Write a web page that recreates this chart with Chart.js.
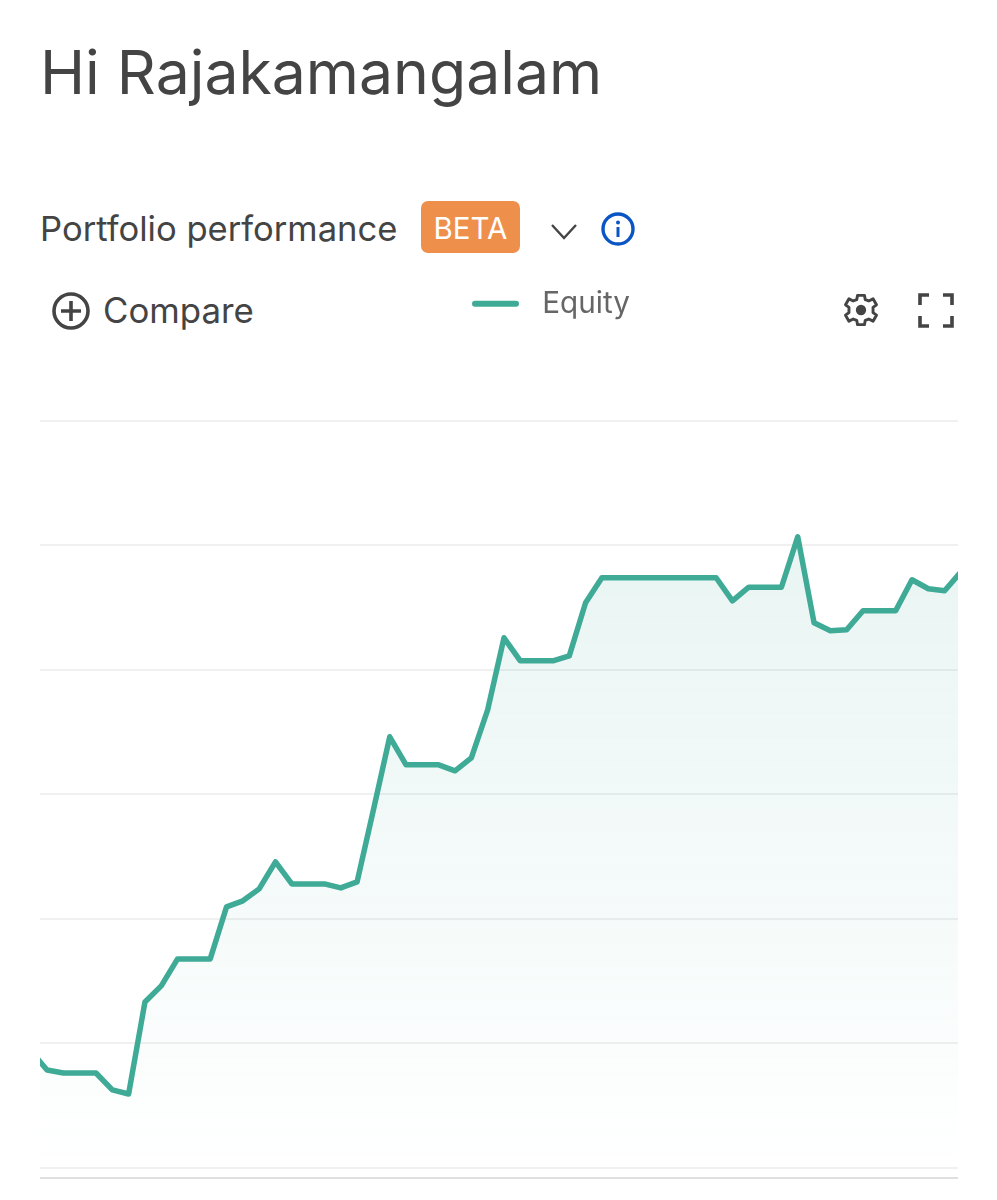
<!DOCTYPE html>
<html><head><meta charset="utf-8">
<script src="https://cdn.jsdelivr.net/npm/chart.js@4"></script>
<style>
html,body{margin:0;padding:0;background:#fff;width:997px;height:1200px;overflow:hidden;font-family:Inter,sans-serif;color:#444}
.t{position:absolute;white-space:nowrap;line-height:1}
svg{position:absolute;overflow:visible}
#wrap{position:absolute;left:0;top:280px;width:997px;height:900px}
#rule{position:absolute;left:40px;top:1177px;width:918px;height:2px;background:#dfdfdf}
</style></head><body>
<div class="t" style="left:40px;top:42px;font-size:60.7px">Hi Rajakamangalam</div>
<div class="t" style="left:40px;top:211px;font-size:34.6px">Portfolio performance</div>
<div class="t" style="left:421px;top:201px;width:99px;height:52px;background:#ef8f4c;border-radius:7px;color:#fff;font-size:29.5px;line-height:54px;text-align:center">BETA</div>
<svg style="left:0;top:0" width="997" height="400">
<path d="M552 225L564 238L576 225" fill="none" stroke="#444" stroke-width="2.4"/>
<circle cx="618" cy="229" r="15" fill="none" stroke="#0a55c4" stroke-width="3.4"/>
<circle cx="618" cy="222.5" r="2" fill="#0a55c4"/><path d="M618 227V237" stroke="#0a55c4" stroke-width="3"/>
<circle cx="71" cy="311" r="17" fill="none" stroke="#444" stroke-width="3.6"/>
<path d="M61 311H81M71 301V321" stroke="#444" stroke-width="3.6"/>
<g transform="translate(861 310) scale(.86)" fill="none" stroke="#444" stroke-width="3.4">
<path d="M-4 -17H4L5 -12L9 -10.5L14 -13L18 -6L14 -3V3L18 6L14 13L9 10.5L5 12L4 17H-4L-5 12L-9 10.5L-14 13L-18 6L-14 3V-3L-18 -6L-14 -13L-9 -10.5L-5 -12Z" stroke-linejoin="round"/>
<circle r="6" fill="#444" stroke="none"/></g>
<path d="M920 305V295H929M943 295H952V305M952 316V326H943M929 326H920V316" fill="none" stroke="#444" stroke-width="3.6"/>
</svg>
<div class="t" style="left:103px;top:293px;font-size:34.8px">Compare</div>
<div id="wrap"><canvas id="c" width="997" height="900"></canvas></div>
<div id="rule"></div>
<script>
const seriesName = 'Equity';
const equity = [9.40,7.87,7.63,7.63,7.63,6.27,5.94,13.33,14.62,16.79,16.79,16.79,20.96,21.45,22.41,24.58,22.81,22.81,22.81,22.49,22.97,28.76,34.62,32.37,32.37,32.37,31.89,32.93,36.79,42.57,40.72,40.72,40.72,41.12,45.38,47.39,47.39,47.39,47.39,47.39,47.39,47.39,47.39,45.54,46.63,46.63,46.63,50.68,43.78,43.13,43.21,44.74,44.74,44.74,47.23,46.51,46.35,47.87];
const xMin = 0.57, xMax = 56.82;
const yTicks = [0,10,20,30,40,50,60];
const lineColor = '#3fab97';

const legendShift = {
  id:'legendShift',
  afterLayout(chart){
    const l = chart.legend;
    l.left += 52; l.right += 52; l.top -= 92; l.bottom -= 92;
  }
};
new Chart(document.getElementById('c'),{
  type:'line',
  data:{datasets:[{
    label:seriesName,
    data:equity.map((v,i)=>({x:i,y:v})),
    borderColor:lineColor,
    borderWidth:5.5,
    borderJoinStyle:'round',
    pointRadius:0,
    tension:0,
    fill:'origin',
    backgroundColor(ctx){
      const a = ctx.chart.chartArea;
      if(!a) return 'rgba(63,171,151,.1)';
      const g = ctx.chart.ctx.createLinearGradient(0,a.top+116,0,a.bottom);
      g.addColorStop(0,'rgba(63,171,151,.115)');
      g.addColorStop(.6,'rgba(63,171,151,.05)');
      g.addColorStop(.9,'rgba(63,171,151,.012)');
      g.addColorStop(1,'rgba(63,171,151,0)');
      return g;
    }
  }]},
  options:{
    responsive:false,animation:false,
    layout:{padding:{left:40,right:39,top:0,bottom:12}},
    plugins:{
      tooltip:{enabled:false},
      legend:{
        display:true,position:'top',
        labels:{
          boxWidth:47,boxHeight:6,useBorderRadius:true,borderRadius:3,
          color:'#666',font:{family:'Inter',size:29.7},padding:101,
          generateLabels(chart){
            return [{text:' '+seriesName,fillStyle:lineColor,strokeStyle:lineColor,lineWidth:0,datasetIndex:0,borderRadius:3,fontColor:'#666'}];
          }
        }
      }
    },
    scales:{
      x:{type:'linear',min:xMin,max:xMax,display:false},
      y:{min:yTicks[0],max:yTicks[yTicks.length-1],
        afterBuildTicks(ax){ax.ticks=yTicks.map(v=>({value:v}));},
        border:{display:false},
        grid:{color:'#f0f0f0',lineWidth:2,drawTicks:false},
        ticks:{display:false}}
    }
  },
  plugins:[legendShift]
});
</script>
</body></html>
